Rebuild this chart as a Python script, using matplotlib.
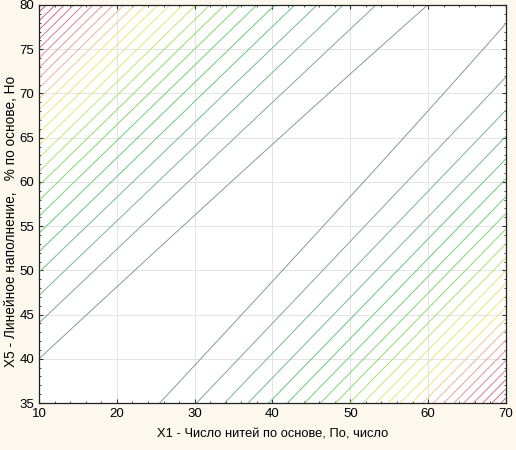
import numpy as np
import matplotlib
matplotlib.use('Agg')
import matplotlib.pyplot as plt
from matplotlib.colors import LinearSegmentedColormap
from matplotlib.ticker import MultipleLocator

plt.rcParams['font.family'] = ['Liberation Sans', 'DejaVu Sans']
plt.rcParams['font.size'] = 9

# Fitted response surface: z = (y - slope*x - intercept)^2 + drift*(x - x_ref)
valley_slope = 0.877
valley_intercept = 21.43
valley_drift = 1.2
x_ref = 10

# axis ranges
x_range = [10, 70]
y_range = [35, 80]

# contour levels (equal steps)
contour_levels = [96, 192, 288, 384, 480, 576, 672, 768, 864, 960,
                  1056, 1152, 1248, 1344, 1440, 1536, 1632, 1728, 1824, 1920,
                  2016, 2112, 2208, 2304, 2400, 2496]

# line colours from the valley outwards (position along the level list, colour)
color_stops = [0.0, 0.08, 0.18, 0.32, 0.44, 0.56, 0.64, 0.76, 1.0]
stop_colors = ['#8a9898', '#78b890', '#66c87a', '#8cdc6e', '#dcec78',
               '#f2e47c', '#ebb4a2', '#dc8898', '#c84c6c']

x_label = 'X1 - Число нитей по основе, По, число'
y_label = 'X5 - Линейное наполнение,   % по основе, Но'

xs = np.linspace(x_range[0], x_range[1], 400)
ys = np.linspace(y_range[0], y_range[1], 400)
X, Y = np.meshgrid(xs, ys)
W = Y - valley_slope * X - valley_intercept
Z = W ** 2 + valley_drift * (X - x_ref)

cmap = LinearSegmentedColormap.from_list('stat', list(zip(color_stops, stop_colors)))

fig = plt.figure(figsize=(5.16, 4.5), dpi=100, facecolor='#fcf8ee')
ax = fig.add_axes([0.0756, 0.1044, 0.905, 0.8845])
ax.set_facecolor('white')

ax.contour(X, Y, Z, levels=contour_levels, cmap=cmap, linewidths=0.7,
           vmin=contour_levels[0], vmax=contour_levels[-1])

ax.set_xlim(x_range)
ax.set_ylim(y_range)
ax.xaxis.set_major_locator(MultipleLocator(10))
ax.xaxis.set_minor_locator(MultipleLocator(2))
ax.yaxis.set_major_locator(MultipleLocator(5))
ax.yaxis.set_minor_locator(MultipleLocator(1))
ax.tick_params(which='both', direction='in', top=True, right=True, color='#333333')
ax.tick_params(which='major', length=3, width=0.8, labelsize=9.5)
ax.tick_params(which='minor', length=1.5, width=0.6)
ax.grid(True, which='major', color='#e4e4e4', linewidth=0.7)
ax.set_axisbelow(True)
for s in ax.spines.values():
    s.set_color('#222222')
    s.set_linewidth(0.9)

ax.set_xlabel(x_label, fontsize=9.3, labelpad=6)
ax.set_ylabel(y_label, fontsize=9.8)
ax.yaxis.set_label_coords(-0.046, 0.455)

fig.savefig('out.png', dpi=100, facecolor=fig.get_facecolor())
